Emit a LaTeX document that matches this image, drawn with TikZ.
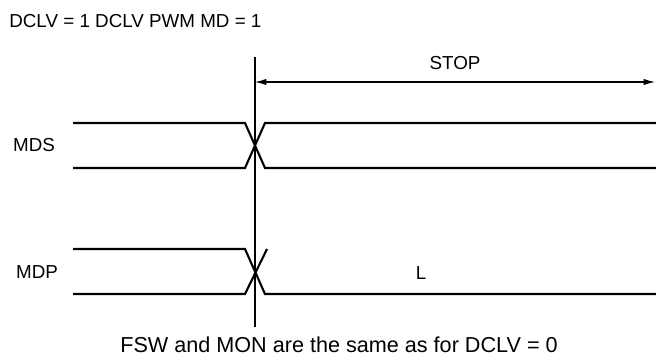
\documentclass[tikz,border=0pt]{standalone}
\usepackage{fontspec}
\setmainfont{Liberation Sans}
\usepackage{tikz}
\usetikzlibrary{arrows.meta}
\tikzset{signal/.style={
  line width=1.2pt,
  line join=miter}}
\tikzset{label/.style={
  inner sep=0pt,
  font=\fontsize{10.7}{12}\selectfont}}
\tikzset{marker/.style={line width=0.8pt}}
\tikzset{>={Latex[length=6.5pt,width=3.6pt]}}

\begin{document}
\begin{tikzpicture}[x={(0.02cm,0cm)},y={(0cm,-0.02cm)}]
  \useasboundingbox (0,0) rectangle (656,358);
  \node[label,anchor=west] (title) at (9,21) {DCLV = 1 DCLV PWM MD = 1};
  % time marker and STOP interval
  \coordinate (top) at (255,57);
  \coordinate (bot) at (255,327);
  \draw[marker] (top) -- (bot);
  \coordinate (stopl) at (255,82);
  \coordinate (stopr) at (655,82);
  \draw[<->,line width=0.6pt] (stopl) -- node[label,above=6.5pt] (stop) {STOP} (stopr);
  % signal names
  \foreach \n/\p/\l in {mds/{(34,145)}/MDS, mdp/{(37,272)}/MDP, lo/{(421,273)}/L}
    \node[label] (\n) at \p {\l};
  % MDS keeps both levels after the edge
  \foreach \hi/\lo in {123/168}{
    \draw[signal] (73,\hi) -- (245,\hi) -- (265,\lo) -- (656,\lo);
    \draw[signal] (73,\lo) -- (245,\lo) -- (265,\hi) -- (656,\hi);
  }
  % MDP goes to L
  \draw[signal] (73,249) -- (245,249) -- (265,294) -- (656,294);
  \draw[signal] (73,294) -- (245,294) -- (267,249);
  \node[label,font=\fontsize{12.3}{14}\selectfont] (note) at (339,345)
    {FSW and MON are the same as for DCLV = 0};
\end{tikzpicture}
\end{document}
